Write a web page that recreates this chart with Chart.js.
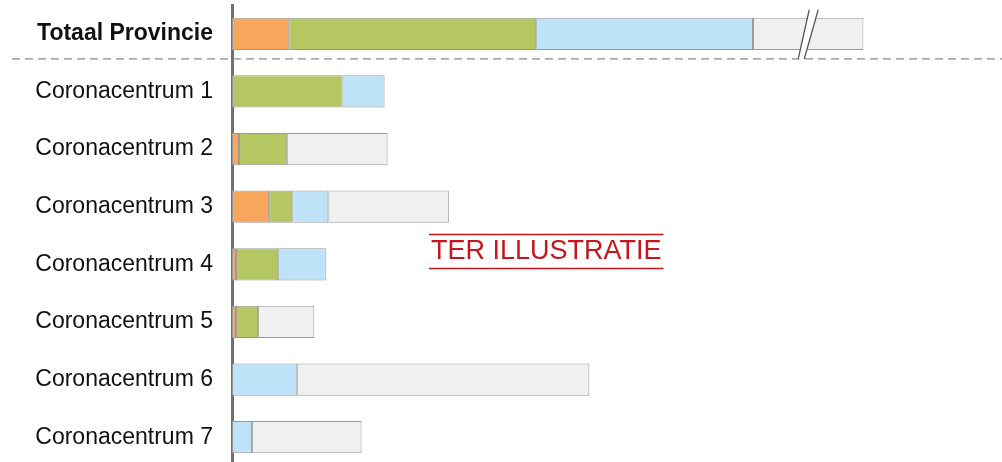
<!DOCTYPE html>
<html>
<head>
<meta charset="utf-8">
<script src="https://cdn.jsdelivr.net/npm/chart.js@4"></script>
<style>
    html, body { margin: 0; padding: 0; background: #ffffff; overflow: hidden; }
    #wrap { position: relative; width: 1002px; height: 466px; }
</style>
</head>
<body>
<div id="wrap"><canvas id="chart"></canvas></div>
<script>
// Categorieën en waarden
const categories = [
    'Totaal Provincie',
    'Coronacentrum 1',
    'Coronacentrum 2',
    'Coronacentrum 3',
    'Coronacentrum 4',
    'Coronacentrum 5',
    'Coronacentrum 6',
    'Coronacentrum 7'
];
const orangeValues = [57, null, 7, 37, 4, 4, null, null];
const greenValues = [246, 110, 48, 23, 42, 22, null, null];
const blueValues = [216, 42, null, 36, 48, null, 65, 20];
const grayValues = [110, null, 100, 120, null, 56, 291, 109];

const xMax = 767;
const breakValue = 574;
const stampText = 'TER ILLUSTRATIE';

// Stippellijn, breukteken en stempel
const extrasPlugin = {
    id: 'extras',
    afterDatasetsDraw(chart) {
        const ctx = chart.ctx;
        const x = chart.scales.x;
        const y = chart.scales.y;
        const bar = chart.getDatasetMeta(0).data[0];
        const barBottom = bar.y + bar.height / 2;

        // stippellijn onder totaal
        ctx.save();
        ctx.strokeStyle = '#8a8a8a';
        ctx.lineWidth = 1.2;
        ctx.setLineDash([8, 5]);
        ctx.beginPath();
        ctx.moveTo(12, barBottom + 9);
        ctx.lineTo(chart.width, barBottom + 9);
        ctx.stroke();
        ctx.restore();

        // breukteken
        const bx = x.getPixelForValue(breakValue);
        const top = bar.y - bar.height / 2 - 8;
        const bottom = barBottom + 9;
        ctx.save();
        ctx.fillStyle = '#ffffff';
        ctx.beginPath();
        ctx.moveTo(bx - 10, bottom);
        ctx.lineTo(bx + 1, top);
        ctx.lineTo(bx + 10, top);
        ctx.lineTo(bx - 4, bottom);
        ctx.closePath();
        ctx.fill();
        ctx.strokeStyle = '#555555';
        ctx.lineWidth = 1.3;
        ctx.beginPath();
        ctx.moveTo(bx - 10, bottom);
        ctx.lineTo(bx + 1, top);
        ctx.moveTo(bx - 4, bottom);
        ctx.lineTo(bx + 10, top);
        ctx.stroke();
        ctx.restore();

        // stempel
        const sx = x.getPixelForValue(313);
        const sy = (y.getPixelForValue(3) + y.getPixelForValue(4)) / 2 + 16;
        ctx.save();
        ctx.font = '27px "Liberation Sans", Arial, sans-serif';
        ctx.fillStyle = '#c4161c';
        ctx.textAlign = 'center';
        ctx.textBaseline = 'middle';
        ctx.fillText(stampText, sx, sy);
        const w = ctx.measureText(stampText).width;
        ctx.strokeStyle = '#c4161c';
        ctx.lineWidth = 1.5;
        ctx.beginPath();
        ctx.moveTo(sx - w / 2 - 2, sy - 17);
        ctx.lineTo(sx + w / 2 + 2, sy - 17);
        ctx.moveTo(sx - w / 2 - 2, sy + 17);
        ctx.lineTo(sx + w / 2 + 2, sy + 17);
        ctx.stroke();
        ctx.restore();
    }
};

function makeSet(data, color) {
    return {
        data: data,
        backgroundColor: color,
        borderColor: '#9a9a9a',
        borderWidth: 1,
        borderSkipped: false,
        barPercentage: 0.56,
        categoryPercentage: 1
    };
}

document.addEventListener('DOMContentLoaded', function() {
    const ctx = document.getElementById('chart').getContext('2d');

    new Chart(ctx, {
        type: 'bar',
        data: {
            labels: categories,
            datasets: [
                makeSet(orangeValues, '#f8a65c'),
                makeSet(greenValues, '#b4c763'),
                makeSet(blueValues, '#bee3f8'),
                makeSet(grayValues, '#f0f0f0')
            ]
        },
        options: {
            indexAxis: 'y',
            responsive: true,
            maintainAspectRatio: false,
            animation: false,
            layout: { padding: { top: 5, right: 0, bottom: 0, left: 0 } },
            plugins: {
                legend: { display: false },
                tooltip: { enabled: false }
            },
            scales: {
                x: {
                    stacked: true,
                    display: false,
                    min: 0,
                    max: xMax
                },
                y: {
                    stacked: true,
                    afterFit: function(scale) {
                        scale.width = 232;
                        scale.paddingTop = 0;
                        scale.paddingBottom = 0;
                    },
                    grid: { display: false, drawTicks: false },
                    border: { display: true, color: '#707070', width: 3 },
                    ticks: {
                        padding: 19,
                        color: '#111111',
                        font: function(c) {
                            return {
                                family: '"Liberation Sans", Arial, sans-serif',
                                size: 23,
                                weight: c.index === 0 ? 'bold' : 'normal'
                            };
                        }
                    }
                }
            }
        },
        plugins: [extrasPlugin]
    });
});
</script>
</body>
</html>
